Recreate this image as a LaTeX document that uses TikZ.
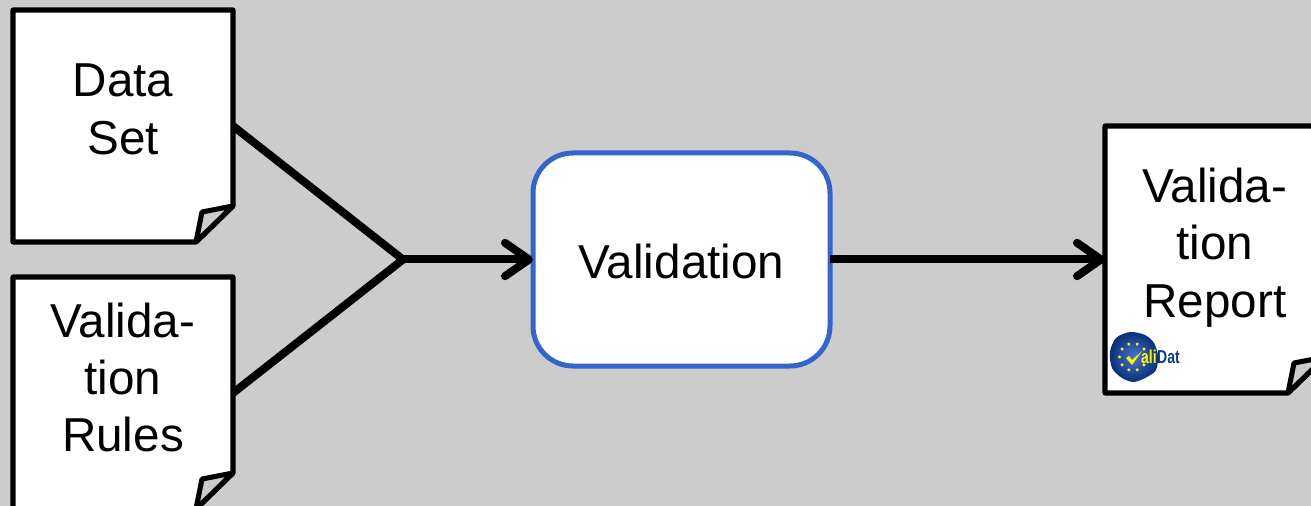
\documentclass[tikz,border=0pt]{standalone}
\usepackage{fontspec}
\setmainfont{Liberation Sans}
\usetikzlibrary{arrows.meta,calc,shapes.geometric}
\definecolor{backdrop}{HTML}{CCCCCC}
\definecolor{boxblue}{HTML}{3366CC}
\definecolor{logoblue}{HTML}{0B3A96}
\definecolor{logoyellow}{HTML}{FFF200}
\tikzset{
    sheet/.style = {
        minimum width=165pt,
        minimum height=174pt,
        inner sep=0pt,
        outer sep=0pt,
        },
    sheet outline/.style = {
        draw=black,
        fill=white,
        line width=3.8pt,
        line join=round,
        },
    sheet fold/.style = {
        draw=black,
        fill=backdrop,
        line width=3.8pt,
        line join=round,
        },
    sheet text/.style = {
        align=center,
        inner sep=0pt,
        font=\fontsize{35.7}{43}\selectfont,
        },
    task/.style = {
        draw=boxblue,
        fill=white,
        line width=3.75pt,
        rounded corners=30pt,
        minimum width=222.75pt,
        minimum height=159.75pt,
        text height=28pt,
        text depth=0pt,
        font=\fontsize{35.7}{43}\selectfont,
        outer sep=0pt,
        },
    link/.style = {
        draw=black,
        line width=6pt,
        },
    flow/.style = {
        link,
        -{Straight Barb[length=18pt,width=25pt,line width=6pt,line cap=round,round]},
        },
    logo star/.style = {
        star,
        star points=5,
        fill=logoyellow,
        inner sep=0pt,
        minimum size=2.6pt,
        },
    logo text/.style = {
        anchor=base west,
        inner sep=0pt,
        font=\fontsize{14}{14}\bfseries\selectfont,
        xscale=0.75,
        },
}
\begin{document}
\begin{tikzpicture}[x=0.75pt,y=-0.75pt]
    \fill[backdrop] (0,0) rectangle (1311,506);
    \useasboundingbox (0,0) rectangle (1311,506);

    \node[sheet] (data) at (123,126) {};
    \node[sheet] (rules) at (123,393) {};
    \node[sheet, minimum height=200.25pt] (report) at (1215,259.5) {};

    \foreach \n in {data,rules,report} {
        \draw[sheet outline] (\n.north west) -- (\n.north east)
            -- ($(\n.south east)+(0,-36)$) -- ($(\n.south east)+(-37,0)$)
            -- (\n.south west) -- cycle;
        \draw[sheet fold] ($(\n.south east)+(0,-36)$) -- ($(\n.south east)+(-31,-30)$)
            -- ($(\n.south east)+(-37,0)$) -- cycle;
    }

    \node[sheet text] (data text) at (123,109.5) {Data\\Set};
    \node[sheet text] (rules text) at (123,377.5) {Valida-\\tion\\Rules};
    \node[sheet text] (report text) at (1215,247.5) {Valida-\\tion\\Report};

    \node[task] (check) at (681.5,259.5) {Validation};

    \coordinate (join) at (403,259.5);
    \draw[link, line join=miter] (data.east) -- (join) -- (rules.east);
    \draw[flow] (join) -- (check.west);
    \draw[flow] (check.east) -- (report.west);

    % logo
    \shade[inner color=boxblue!90!white, outer color=logoblue!80!black]
        plot[smooth cycle] coordinates {(1110,352) (1116,338) (1130,332) (1145,335) (1154,343)
            (1158,356) (1156,370) (1147,377) (1134,382) (1122,378) (1112,368)};
    \foreach \a [count=\i] in {0,36,...,324} {
        \node[logo star] (star\i) at ($(1133,357)+(\a:13.5)$) {};
    }
    \fill[logoyellow] (1126,358) -- (1129,356) -- (1132,360) -- (1142,351) -- (1132,365) -- cycle;
    \node[logo text, text=logoyellow] (logo ali) at (1141,363) {ali};
    \node[logo text, text=logoblue] (logo dat) at (1157,363) {Dat};
\end{tikzpicture}
\end{document}
